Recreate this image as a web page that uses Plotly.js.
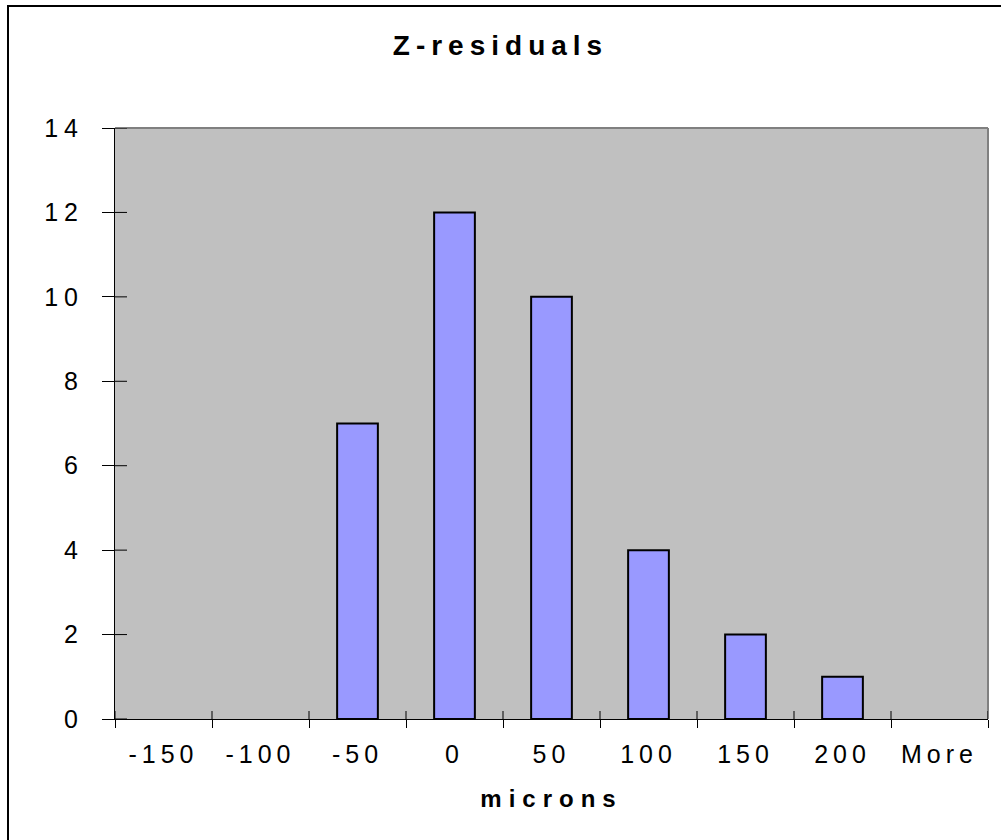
<!DOCTYPE html>
<html>
<head>
<meta charset="utf-8">
<script src="https://cdn.plot.ly/plotly-3.0.1.min.js"></script>
<style>
  html, body { margin: 0; padding: 0; background: #fff; overflow: hidden; }
  #chart { width: 1001px; height: 840px; position: relative; }
  #frame { position: absolute; left: 7px; top: 5px; width: 1100px; height: 1000px;
           border-left: 2px solid #000; border-top: 2px solid #000; pointer-events: none; }
  #chart .xtick text { letter-spacing: 5px; }
  #chart .ytick text { letter-spacing: 6px; }
  #chart .gtitle { letter-spacing: 6px; }
  #chart .g-xtitle text { letter-spacing: 7px; }
</style>
</head>
<body>
<div id="chart"></div>
<div id="frame"></div>
<script>
const categories = ["-150", "-100", "-50", "0", "50", "100", "150", "200", "More"];
const counts = [0, 0, 7, 12, 10, 4, 2, 1, 0];
const yTicks = [0, 2, 4, 6, 8, 10, 12, 14];
const chartTitle = "Z-residuals";
const xTitle = "microns";

const font = "Liberation Sans, Arial, sans-serif";

const trace = {
  type: "bar",
  x: categories,
  y: counts,
  marker: { color: "#9999FF", line: { color: "#000000", width: counts.map(v => v > 0 ? 2 : 0) } },
  hoverinfo: "x+y"
};

const plotW = 1001 - 115 - 13;
const plotH = 840 - 128 - 121;

// inner halves of the crossing tick marks
const tickShapes = [];
yTicks.forEach(v => tickShapes.push({
  type: "line", xref: "paper", yref: "y", x0: 0, x1: 12 / plotW, y0: v, y1: v,
  line: { color: "#000", width: 1 }, layer: "above"
}));
for (let i = 0; i <= categories.length; i++) {
  tickShapes.push({
    type: "line", xref: "x", yref: "paper", x0: i - 0.5, x1: i - 0.5, y0: 0, y1: 8 / plotH,
    line: { color: "#000", width: 1 }, layer: "above"
  });
}

const layout = {
  width: 1001,
  height: 840,
  margin: { l: 115, r: 13, t: 128, b: 121, pad: 0 },
  paper_bgcolor: "#ffffff",
  plot_bgcolor: "#C0C0C0",
  showlegend: false,
  bargap: 0.58,
  title: {
    text: "<b>" + chartTitle + "</b>",
    font: { family: font, size: 28, color: "#000" },
    x: 0.5, xanchor: "center",
    y: 1 - 45 / 840, yanchor: "middle", yref: "container"
  },
  xaxis: {
    type: "category",
    range: [-0.5, categories.length - 0.5],
    tickson: "boundaries",
    ticks: "outside", ticklen: 8, tickwidth: 1, tickcolor: "#000",
    showline: true, linecolor: "#000", linewidth: 1,
    showgrid: false, zeroline: false,
    tickfont: { family: font, size: 25, color: "#000" },
    ticklabelstandoff: 13,
    title: { text: "<b>" + xTitle + "</b>", font: { family: font, size: 24, color: "#000" }, standoff: 23 },
    fixedrange: true
  },
  yaxis: {
    range: [0, 14],
    tickvals: yTicks,
    ticktext: yTicks.map(String),
    ticks: "outside", ticklen: 12, tickwidth: 1, tickcolor: "#000",
    showline: true, linecolor: "#000", linewidth: 1,
    showgrid: false, zeroline: false,
    tickfont: { family: font, size: 25, color: "#000" },
    ticklabelstandoff: 13,
    fixedrange: true
  },
  shapes: [
    { type: "line", xref: "paper", yref: "paper", x0: 0, x1: 1, y0: 1, y1: 1,
      line: { color: "#808080", width: 2 }, layer: "above" },
    { type: "line", xref: "paper", yref: "paper", x0: 1, x1: 1, y0: 0, y1: 1,
      line: { color: "#808080", width: 2 }, layer: "above" }
  ].concat(tickShapes)
};

Plotly.newPlot("chart", [trace], layout, { displayModeBar: false, staticPlot: true });
</script>
</body>
</html>
